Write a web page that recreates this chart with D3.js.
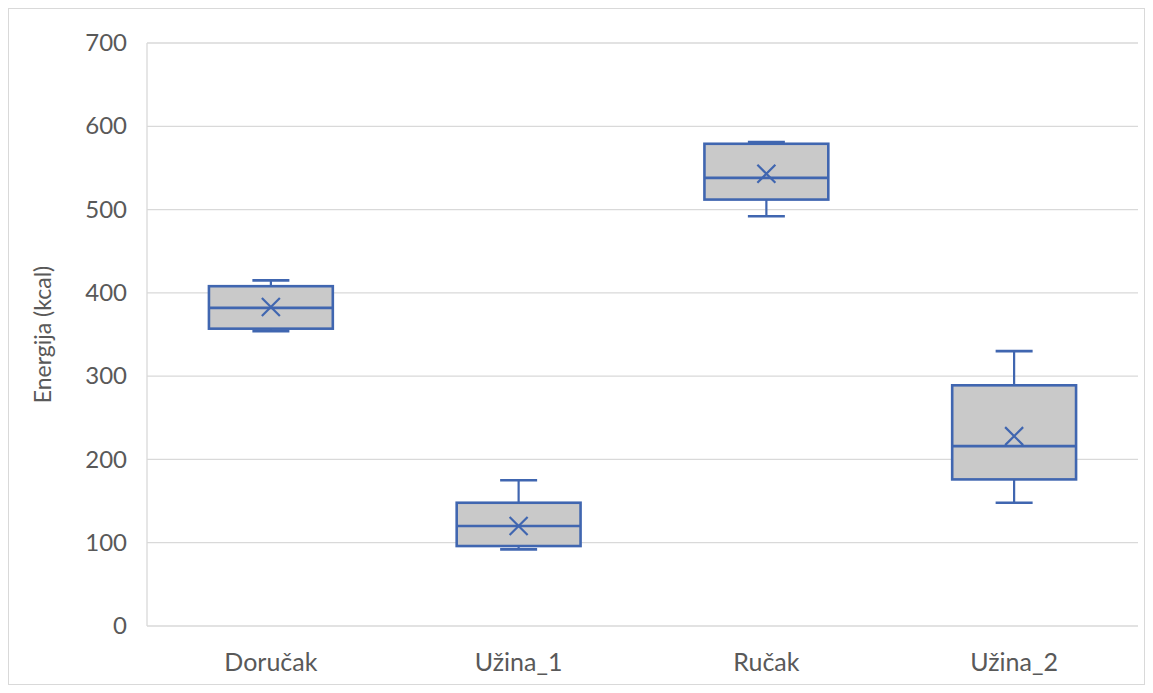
<!DOCTYPE html>
<html lang="hr">
<head>
    <meta charset="UTF-8">
    <title>Energija po obroku</title>
    <script src="https://d3js.org/d3.v7.min.js"></script>
    <style>
        body {
            margin: 0;
            padding: 0;
            background-color: #ffffff;
            font-family: Lato, "Open Sans", sans-serif;
        }
    </style>
</head>
<body>
    <svg id="chart" width="1153" height="693"></svg>

    <script>
        // Box plot values (kcal)
        const categories = ["Doručak", "Užina_1", "Ručak", "Užina_2"];
        const whiskerMin = [354, 92, 492, 148];
        const q1 = [357, 96, 512, 176];
        const median = [382, 120, 538, 216];
        const q3 = [408, 148, 579, 289];
        const whiskerMax = [415, 175, 581, 330];
        const mean = [383, 120, 543, 228];
        const yTicks = [0, 100, 200, 300, 400, 500, 600, 700];

        const svg = d3.select("#chart");
        const width = +svg.attr("width");
        const height = +svg.attr("height");

        const margin = { top: 43, right: 15, bottom: 67, left: 147 };
        const plotRight = width - margin.right;
        const plotBottom = height - margin.bottom;

        const boxColor = "#4066b0";
        const fillColor = "#c9c9c9";
        const gridColor = "#d9d9d9";
        const textColor = "#595959";

        // Outer chart border
        svg.append("rect")
            .attr("x", 8.5)
            .attr("y", 8.5)
            .attr("width", width - 17)
            .attr("height", height - 17)
            .attr("fill", "none")
            .attr("stroke", gridColor)
            .attr("stroke-width", 1);

        const x = d3.scaleBand()
            .domain(categories)
            .range([margin.left, plotRight]);

        const y = d3.scaleLinear()
            .domain([0, 700])
            .range([plotBottom, margin.top]);

        // Gridlines
        svg.append("g")
            .selectAll("line")
            .data(yTicks)
            .enter()
            .append("line")
            .attr("x1", margin.left)
            .attr("x2", plotRight)
            .attr("y1", (d) => y(d))
            .attr("y2", (d) => y(d))
            .attr("stroke", gridColor)
            .attr("stroke-width", 1.3);

        // Left axis line
        svg.append("line")
            .attr("x1", margin.left)
            .attr("x2", margin.left)
            .attr("y1", margin.top)
            .attr("y2", plotBottom)
            .attr("stroke", gridColor)
            .attr("stroke-width", 1.3);

        // Y axis
        const yAxis = svg.append("g")
            .attr("transform", `translate(${margin.left},0)`)
            .call(d3.axisLeft(y).tickValues(yTicks).tickSize(0).tickPadding(20));
        yAxis.select(".domain").remove();
        yAxis.selectAll("text")
            .attr("fill", textColor)
            .attr("font-size", "24px")
            .attr("font-family", "Lato, sans-serif");

        // X axis
        const xAxis = svg.append("g")
            .attr("transform", `translate(0,${plotBottom})`)
            .call(d3.axisBottom(x).tickSize(0).tickPadding(27));
        xAxis.select(".domain").remove();
        xAxis.selectAll("text")
            .attr("fill", textColor)
            .attr("font-size", "25px")
            .attr("font-family", "Lato, sans-serif");

        // Y axis title
        svg.append("text")
            .attr("transform", `translate(51,${(margin.top + plotBottom) / 2}) rotate(-90)`)
            .attr("text-anchor", "middle")
            .attr("fill", textColor)
            .attr("font-size", "23px")
            .attr("font-family", "Lato, sans-serif")
            .text("Energija (kcal)");

        // Boxes
        const boxWidth = x.bandwidth() * 0.5;
        const capWidth = 37;
        const boxes = svg.append("g")
            .selectAll("g")
            .data(categories)
            .enter()
            .append("g")
            .attr("transform", (d) => `translate(${x(d) + x.bandwidth() / 2},0)`);

        // whisker stems
        boxes.append("line")
            .attr("x1", 0).attr("x2", 0)
            .attr("y1", (d, i) => y(whiskerMax[i]))
            .attr("y2", (d, i) => y(whiskerMin[i]))
            .attr("stroke", boxColor)
            .attr("stroke-width", 2.2);

        // whisker caps
        [whiskerMax, whiskerMin].forEach((arr) => {
            boxes.append("line")
                .attr("x1", -capWidth / 2).attr("x2", capWidth / 2)
                .attr("y1", (d, i) => y(arr[i]))
                .attr("y2", (d, i) => y(arr[i]))
                .attr("stroke", boxColor)
                .attr("stroke-width", 2.6);
        });

        boxes.append("rect")
            .attr("x", -boxWidth / 2)
            .attr("width", boxWidth)
            .attr("y", (d, i) => y(q3[i]))
            .attr("height", (d, i) => y(q1[i]) - y(q3[i]))
            .attr("fill", fillColor)
            .attr("stroke", boxColor)
            .attr("stroke-width", 2.6);

        boxes.append("line")
            .attr("x1", -boxWidth / 2).attr("x2", boxWidth / 2)
            .attr("y1", (d, i) => y(median[i]))
            .attr("y2", (d, i) => y(median[i]))
            .attr("stroke", boxColor)
            .attr("stroke-width", 2.6);

        // mean markers (x)
        const m = 9;
        boxes.append("path")
            .attr("d", (d, i) => {
                const cy = y(mean[i]);
                return `M${-m},${cy - m}L${m},${cy + m}M${-m},${cy + m}L${m},${cy - m}`;
            })
            .attr("stroke", boxColor)
            .attr("stroke-width", 2.2)
            .attr("fill", "none");
    </script>
</body>
</html>
